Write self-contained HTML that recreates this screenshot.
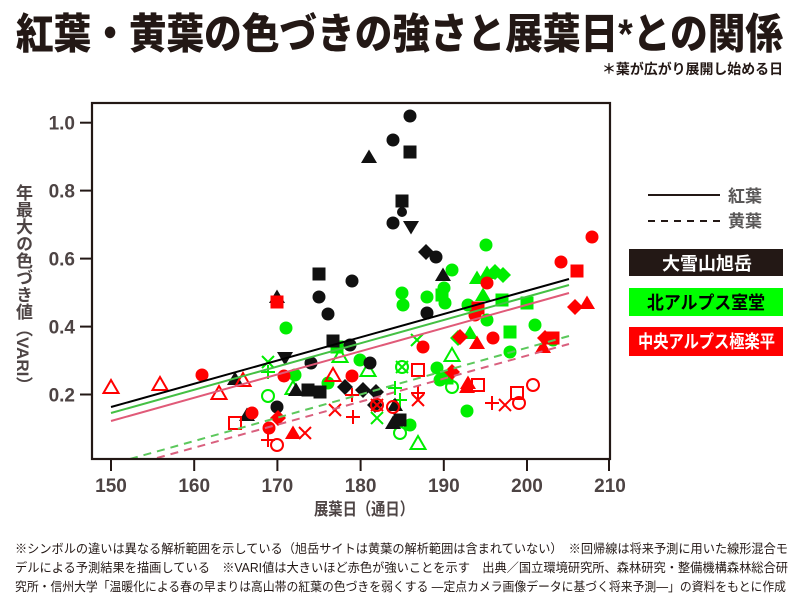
<!DOCTYPE html>
<html><head><meta charset="utf-8">
<style>
html,body{margin:0;padding:0;background:#fff;}
#wrap{position:relative;width:800px;height:600px;overflow:hidden;background:#fff;}
svg{position:absolute;left:0;top:0;}
#ylab{position:absolute;left:13px;top:184px;writing-mode:vertical-rl;font-family:"Liberation Sans","Noto Sans CJK JP",sans-serif;font-size:17px;font-weight:bold;color:#4d4444;letter-spacing:0px;line-height:19px;white-space:nowrap;}
</style></head><body>
<div id="wrap">
<svg width="800" height="600" viewBox="0 0 800 600" xmlns="http://www.w3.org/2000/svg">
<defs>
<g id="c"><circle r="6.5" fill="currentColor"/></g>
<g id="cs"><circle r="5" fill="currentColor"/></g>
<g id="oc"><circle r="6" fill="none" stroke="currentColor" stroke-width="2"/></g>
<g id="s"><rect x="-6.5" y="-6.5" width="13" height="13" fill="currentColor"/></g>
<g id="os"><rect x="-6" y="-6" width="12" height="12" fill="none" stroke="currentColor" stroke-width="2"/></g>
<g id="t"><polygon points="0,-7.5 8,6 -8,6" fill="currentColor"/></g>
<g id="ot"><polygon points="0,-7 7.5,6 -7.5,6" fill="none" stroke="currentColor" stroke-width="2"/></g>
<g id="it"><polygon points="-8,-6 8,-6 0,7.5" fill="currentColor"/></g>
<g id="d"><polygon points="0,-8 8,0 0,8 -8,0" fill="currentColor"/></g>
<g id="x"><path d="M-6,-6L6,6M-6,6L6,-6" stroke="currentColor" stroke-width="2" fill="none"/></g>
<g id="p"><path d="M-7,0L7,0M0,-7L0,7" stroke="currentColor" stroke-width="2" fill="none"/></g>
</defs>

<!-- Title -->
<text x="16" y="48.5" textLength="767" lengthAdjust="spacingAndGlyphs" font-family="'Liberation Sans','Noto Sans CJK JP',sans-serif" font-size="42" font-weight="900" fill="#231815">紅葉・黄葉の色づきの強さと展葉日*との関係</text>
<text x="602" y="74" textLength="181" lengthAdjust="spacingAndGlyphs" font-family="'Liberation Sans','Noto Sans CJK JP',sans-serif" font-size="14" font-weight="bold" fill="#231815">＊葉が広がり展開し始める日</text>

<!-- Green markers -->
<g color="#00ee00">
<use href="#c" x="452" y="270"/>
<use href="#c" x="402" y="293"/>
<use href="#c" x="427" y="297"/>
<use href="#c" x="444" y="288"/>
<use href="#c" x="403" y="305"/>
<use href="#s" x="442" y="295"/>
<use href="#c" x="445" y="303"/>
<use href="#c" x="286" y="328"/>
<use href="#x" x="268" y="362"/>
<use href="#p" x="268" y="372"/>
<use href="#c" x="295" y="375"/>
<use href="#ot" x="293" y="388"/>
<use href="#oc" x="268" y="396"/>
<use href="#s" x="337" y="347"/>
<use href="#ot" x="340" y="356"/>
<use href="#c" x="360" y="360"/>
<use href="#ot" x="368" y="370"/>
<use href="#c" x="328" y="383"/>
<use href="#x" x="377" y="418"/>
<use href="#c" x="410" y="425"/>
<use href="#oc" x="400" y="433"/>
<use href="#ot" x="418" y="443"/>
<use href="#p" x="395" y="388"/>
<use href="#p" x="400" y="400"/>
<use href="#oc" x="402" y="367"/>
<use href="#x" x="402" y="367"/>
<use href="#c" x="437" y="368"/>
<use href="#c" x="440" y="380"/>
<use href="#s" x="447" y="378"/>
<use href="#ot" x="452" y="355"/>
<use href="#c" x="486" y="245"/>
<use href="#t" x="477" y="278"/>
<use href="#t" x="487" y="273"/>
<use href="#d" x="495" y="272"/>
<use href="#d" x="503" y="275"/>
<use href="#t" x="483" y="295"/>
<use href="#s" x="502" y="300"/>
<use href="#s" x="527" y="303"/>
<use href="#c" x="468" y="305"/>
<use href="#c" x="487" y="320"/>
<use href="#c" x="535" y="325"/>
<use href="#s" x="510" y="332"/>
<use href="#t" x="470" y="333"/>
<use href="#c" x="553" y="340"/>
<use href="#c" x="510" y="352"/>
<use href="#oc" x="452" y="387"/>
<use href="#c" x="467" y="411"/>
<use href="#x" x="417" y="340"/>
<use href="#d" x="458" y="338"/>
</g>

<!-- Black markers -->
<g color="#111">
<use href="#c" x="410" y="116"/>
<use href="#c" x="393" y="140"/>
<use href="#s" x="410" y="152"/>
<use href="#t" x="369" y="157"/>
<use href="#s" x="402" y="201"/>
<use href="#cs" x="402" y="212"/>
<use href="#c" x="393" y="223"/>
<use href="#it" x="411" y="227"/>
<use href="#d" x="426" y="252"/>
<use href="#c" x="436" y="257"/>
<use href="#t" x="443" y="275"/>
<use href="#s" x="319" y="274"/>
<use href="#c" x="352" y="281"/>
<use href="#c" x="319" y="297"/>
<use href="#t" x="277" y="297"/>
<use href="#c" x="328" y="314"/>
<use href="#c" x="427" y="313"/>
<use href="#s" x="333" y="341"/>
<use href="#c" x="350" y="345"/>
<use href="#c" x="370" y="363"/>
<use href="#c" x="311" y="363"/>
<use href="#it" x="285" y="358"/>
<use href="#t" x="296" y="390"/>
<use href="#s" x="308" y="390"/>
<use href="#s" x="320" y="392"/>
<use href="#d" x="345" y="387"/>
<use href="#d" x="363" y="390"/>
<use href="#d" x="376" y="392"/>
<use href="#d" x="375" y="405"/>
<use href="#t" x="395" y="405"/>
<use href="#t" x="393" y="423"/>
<use href="#s" x="400" y="420"/>
<use href="#t" x="235" y="379"/>
<use href="#c" x="277" y="407"/>
<use href="#t" x="247" y="415"/>
</g>

<!-- Red markers -->
<g color="#ff0000">
<use href="#s" x="277" y="302"/>
<use href="#ot" x="111" y="387"/>
<use href="#ot" x="160" y="384"/>
<use href="#c" x="202" y="375"/>
<use href="#ot" x="243" y="380"/>
<use href="#ot" x="219" y="393"/>
<use href="#c" x="252" y="413"/>
<use href="#os" x="235" y="423"/>
<use href="#d" x="278" y="418"/>
<use href="#c" x="269" y="428"/>
<use href="#p" x="268" y="440"/>
<use href="#oc" x="277" y="445"/>
<use href="#t" x="293" y="433"/>
<use href="#x" x="305" y="433"/>
<use href="#c" x="284" y="376"/>
<use href="#c" x="352" y="376"/>
<use href="#ot" x="333" y="375"/>
<use href="#p" x="352" y="395"/>
<use href="#x" x="335" y="410"/>
<use href="#p" x="353" y="417"/>
<use href="#oc" x="377" y="405"/>
<use href="#x" x="377" y="405"/>
<use href="#oc" x="393" y="407"/>
<use href="#os" x="418" y="370"/>
<use href="#x" x="418" y="400"/>
<use href="#p" x="418" y="393"/>
<use href="#c" x="423" y="347"/>
<use href="#t" x="467" y="387"/>
<use href="#c" x="592" y="237"/>
<use href="#c" x="561" y="262"/>
<use href="#s" x="577" y="271"/>
<use href="#c" x="487" y="283"/>
<use href="#s" x="478" y="308"/>
<use href="#c" x="475" y="315"/>
<use href="#d" x="575" y="307"/>
<use href="#t" x="587" y="303"/>
<use href="#d" x="460" y="337"/>
<use href="#t" x="477" y="343"/>
<use href="#c" x="493" y="338"/>
<use href="#d" x="545" y="338"/>
<use href="#t" x="543" y="347"/>
<use href="#s" x="553" y="338"/>
<use href="#d" x="452" y="372"/>
<use href="#t" x="468" y="383"/>
<use href="#os" x="478" y="385"/>
<use href="#oc" x="533" y="385"/>
<use href="#p" x="492" y="403"/>
<use href="#x" x="505" y="405"/>
<use href="#os" x="517" y="393"/>
<use href="#oc" x="519" y="403"/>
</g>

<!-- Regression lines -->
<line x1="111" y1="407" x2="569" y2="279" stroke="#000" stroke-width="2"/>
<line x1="111" y1="413" x2="569" y2="285" stroke="#44c044" stroke-width="2"/>
<line x1="111" y1="421" x2="569" y2="293" stroke="#e05a78" stroke-width="2"/>
<line x1="130" y1="459" x2="569" y2="336" stroke="#5cc85c" stroke-width="2" stroke-dasharray="8,6"/>
<line x1="157" y1="458" x2="569" y2="344" stroke="#d9607e" stroke-width="2" stroke-dasharray="8,6"/>

<!-- Frame -->
<rect x="92" y="103" width="518" height="356" fill="none" stroke="#231815" stroke-width="2.2"/>

<!-- Ticks -->
<g stroke="#231815" stroke-width="2">
<line x1="80" y1="122.7" x2="92" y2="122.7"/>
<line x1="80" y1="190.6" x2="92" y2="190.6"/>
<line x1="80" y1="258.6" x2="92" y2="258.6"/>
<line x1="80" y1="326.6" x2="92" y2="326.6"/>
<line x1="80" y1="394.5" x2="92" y2="394.5"/>
<line x1="111" y1="459" x2="111" y2="471"/>
<line x1="194.2" y1="459" x2="194.2" y2="471"/>
<line x1="277.4" y1="459" x2="277.4" y2="471"/>
<line x1="360.6" y1="459" x2="360.6" y2="471"/>
<line x1="443.8" y1="459" x2="443.8" y2="471"/>
<line x1="527" y1="459" x2="527" y2="471"/>
<line x1="609" y1="459" x2="609" y2="471"/>
</g>
<g font-family="'Liberation Sans',sans-serif" font-size="19" font-weight="bold" fill="#4d4444" text-anchor="end">
<text x="75" y="129.5">1.0</text>
<text x="75" y="197.5">0.8</text>
<text x="75" y="265.5">0.6</text>
<text x="75" y="333.5">0.4</text>
<text x="75" y="401.5">0.2</text>
</g>
<g font-family="'Liberation Sans',sans-serif" font-size="19" font-weight="bold" fill="#4d4444" text-anchor="middle">
<text x="111" y="492">150</text>
<text x="194.2" y="492">160</text>
<text x="277.4" y="492">170</text>
<text x="360.6" y="492">180</text>
<text x="443.8" y="492">190</text>
<text x="527" y="492">200</text>
<text x="610" y="492">210</text>
</g>
<text x="314" y="515" textLength="100" lengthAdjust="spacingAndGlyphs" font-family="'Liberation Sans','Noto Sans CJK JP',sans-serif" font-size="17" font-weight="bold" fill="#4d4444">展葉日（通日）</text>

<!-- Legend -->
<line x1="648" y1="195" x2="720" y2="195" stroke="#231815" stroke-width="2"/>
<line x1="648" y1="221" x2="720" y2="221" stroke="#231815" stroke-width="2" stroke-dasharray="7,6"/>
<g font-family="'Liberation Sans','Noto Sans CJK JP',sans-serif" font-size="17" fill="#595757" font-weight="bold">
<text x="728" y="202">紅葉</text>
<text x="728" y="227">黄葉</text>
</g>
<rect x="629" y="249" width="154" height="27" fill="#231815"/>
<rect x="629" y="288" width="154" height="28" fill="#00ff00"/>
<rect x="629" y="327" width="154" height="29" fill="#ff0000"/>
<g font-family="'Liberation Sans','Noto Sans CJK JP',sans-serif" font-size="18" font-weight="bold">
<text x="662" y="270" textLength="90" lengthAdjust="spacingAndGlyphs" fill="#fff">大雪山旭岳</text>
<text x="647" y="309" textLength="118" lengthAdjust="spacingAndGlyphs" fill="#000">北アルプス室堂</text>
<text x="638" y="348" textLength="137" lengthAdjust="spacingAndGlyphs" fill="#fff">中央アルプス極楽平</text>
</g>

<!-- Footnotes -->
<g font-family="'Liberation Sans','Noto Sans CJK JP',sans-serif" font-size="12.5" fill="#231815">
<text x="15" y="553" textLength="773" lengthAdjust="spacingAndGlyphs">※シンボルの違いは異なる解析範囲を示している（旭岳サイトは黄葉の解析範囲は含まれていない）　※回帰線は将来予測に用いた線形混合モ</text>
<text x="15" y="572" textLength="773" lengthAdjust="spacingAndGlyphs">デルによる予測結果を描画している　※VARI値は大きいほど赤色が強いことを示す　出典／国立環境研究所、森林研究・整備機構森林総合研</text>
<text x="15" y="591" textLength="771" lengthAdjust="spacingAndGlyphs">究所・信州大学「温暖化による春の早まりは高山帯の紅葉の色づきを弱くする ―定点カメラ画像データに基づく将来予測―」の資料をもとに作成</text>
</g>
</svg>
<div id="ylab">年最大の色づき値（VARI）</div>
</div>
</body></html>
